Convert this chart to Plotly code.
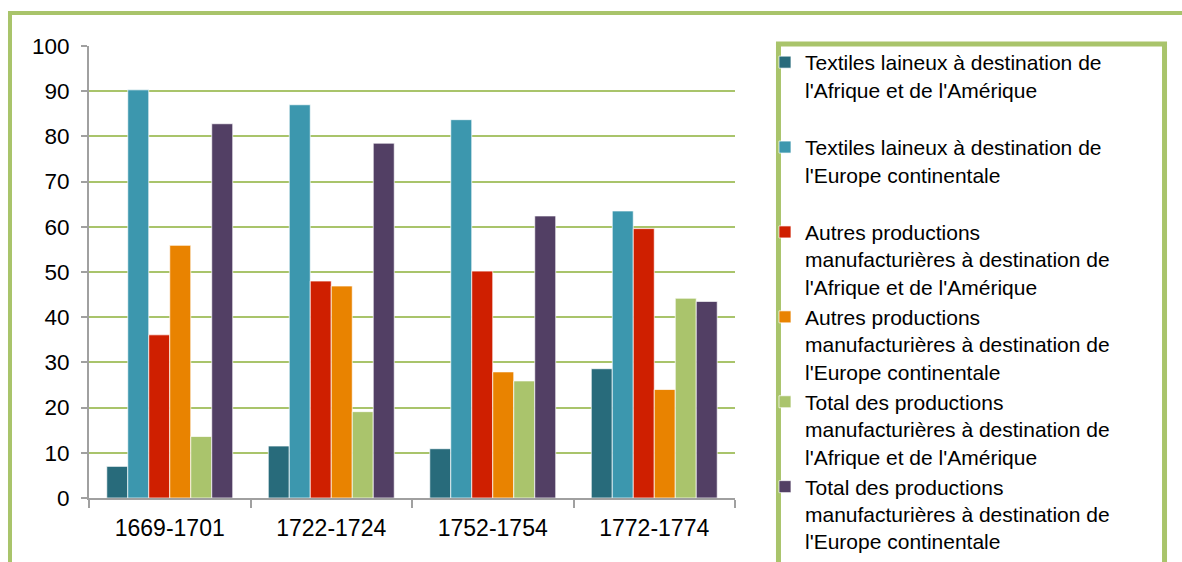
import plotly.graph_objects as go

# ---- données

periodes = ['1669-1701', '1722-1724', '1752-1754', '1772-1774']

textiles_afr_am = [7.0, 11.5, 10.9, 28.6]
textiles_europe = [90.3, 87.0, 83.7, 63.5]
autres_afr_am = [36.1, 48.0, 50.2, 59.6]
autres_europe = [55.9, 46.9, 27.9, 24.0]
total_afr_am = [13.6, 19.1, 25.9, 44.2]
total_europe = [82.8, 78.5, 62.4, 43.5]

noms = [
    "Textiles laineux à destination de<br>l'Afrique et de l'Amérique<br> ",
    "Textiles laineux à destination de<br>l'Europe continentale<br> ",
    "Autres productions<br>manufacturières à destination de<br>l'Afrique et de l'Amérique",
    "Autres productions<br>manufacturières à destination de<br>l'Europe continentale",
    "Total des productions<br>manufacturières à destination de<br>l'Afrique et de l'Amérique",
    "Total des productions<br>manufacturières à destination de<br>l'Europe continentale",
]
series = [textiles_afr_am, textiles_europe, autres_afr_am, autres_europe, total_afr_am, total_europe]
couleurs = ['#286B7B', '#3C97AE', '#CF1F00', '#E98300', '#AAC46C', '#523F64']

VERT = '#A9C46B'
FONT = 'Liberation Sans, Arial, sans-serif'

fig = go.Figure()

for nom, vals, c in zip(noms, series, couleurs):
    fig.add_trace(go.Bar(
        x=periodes, y=vals, name=nom,
        marker=dict(color=c, line=dict(color='rgba(255,255,255,0.7)', width=1)),
    ))

# cadre extérieur + cadre de la légende
fig.add_shape(type='rect', xref='paper', yref='paper',
              x0=-0.1223, x1=1.72, y0=-0.17, y1=1.073,
              line=dict(color=VERT, width=4), layer='below')
fig.add_shape(type='rect', xref='paper', yref='paper',
              x0=1.0673, x1=1.6649, y0=-0.17, y1=1.0044,
              line=dict(color=VERT, width=5), layer='below')

fig.update_layout(
    width=1182, height=562,
    margin=dict(l=89, r=447, t=46, b=64),
    paper_bgcolor='white', plot_bgcolor='white',
    barmode='group', bargap=0.22, bargroupgap=0,
    font=dict(family=FONT, color='black', size=22),
    legend=dict(
        x=1.0464, xanchor='left', y=0.9912, yanchor='top',
        font=dict(size=21, family=FONT, color='black'),
        valign='top', bgcolor='rgba(0,0,0,0)', borderwidth=0,
        tracegroupgap=0, maxheight=2000,
    ),
)

fig.update_yaxes(
    range=[0, 100], dtick=10,
    showgrid=True, gridcolor=VERT, gridwidth=2,
    showline=True, linecolor='#A0A0A0', linewidth=2,
    ticks='outside', ticklen=6, tickcolor='#A0A0A0', tickwidth=2,
    ticklabelstandoff=7, tickfont=dict(size=22.5),
    zeroline=False,
)
fig.update_xaxes(
    showline=True, linecolor='#A0A0A0', linewidth=2,
    ticks='outside', ticklen=8, tickcolor='#A0A0A0', tickwidth=2,
    tickson='boundaries', ticklabelstandoff=8, tickfont=dict(size=23),
)

fig.write_html("out.html", config={'displayModeBar': False},
               post_script="document.body.style.margin='0px';")
